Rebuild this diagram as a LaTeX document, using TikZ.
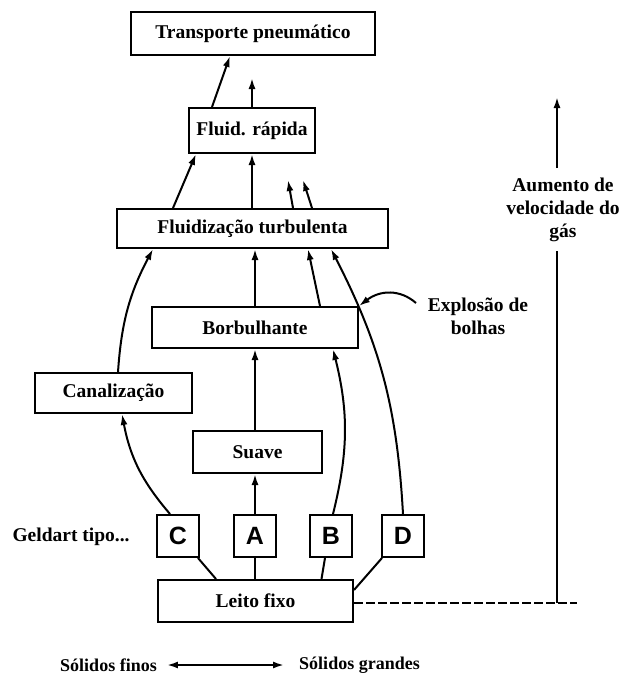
\documentclass[tikz,border=0pt]{standalone}
\usepackage{fontspec}
\setmainfont{Liberation Serif}
\newfontfamily\lsans{Liberation Sans}
\usetikzlibrary{arrows.meta,calc}
\begin{document}
\begin{tikzpicture}[x=1pt,y=-1pt,
  box/.style={draw, line width=2pt, inner sep=0pt, font=\bfseries\fontsize{19.5}{23}\selectfont},
  letter/.style={draw, line width=2pt, minimum size=42pt, inner sep=0pt, font=\lsans\bfseries\fontsize{25}{25}\selectfont},
  conn/.style={line width=2pt},
  arr/.style={conn, -{Latex[length=11pt,width=7pt]}},
  dbl/.style={conn, {Latex[length=11pt,width=7pt]}-{Latex[length=11pt,width=7pt]}},
  lbl/.style={font=\bfseries\fontsize{19.5}{23}\selectfont, align=center, inner sep=2pt},
  small/.style={font=\bfseries\fontsize{18}{21}\selectfont, inner sep=2pt}]
\useasboundingbox (0,0) rectangle (619,680);
% boxes
\node[box, minimum width=244pt, minimum height=43pt] (trans) at (253,33.5) {Transporte pneumático};
\node[box, minimum width=126pt, minimum height=45pt] (rap) at (252,130.5) {Fluid. rápida};
\node[box, minimum width=271pt, minimum height=39pt] (turb) at (252.5,228.5) {Fluidização turbulenta};
\node[box, minimum width=206pt, minimum height=41pt] (borb) at (255,327.5) {Borbulhante};
\node[box, minimum width=157pt, minimum height=40pt] (canal) at (113.5,393) {Canalização};
\node[box, minimum width=129pt, minimum height=42pt] (suave) at (257.5,452) {Suave};
\node[letter] (C) at (178,536) {C};
\node[letter] (A) at (255,536) {A};
\node[letter] (B) at (331,536) {B};
\node[letter] (D) at (403,536) {D};
\node[box, minimum width=195pt, minimum height=42pt] (leito) at (255.5,601) {Leito fixo};
% labels
\node[lbl] (geld) at (71,537) {Geldart tipo...};
\node[lbl] (expl) at (478,316) {Explosão de\\bolhas};
\node[lbl] (aum) at (563,210) {Aumento de\\velocidade do\\gás};
\node[small] (fin) at (108.5,665) {Sólidos finos};
\node[small] (gra) at (359.5,665) {Sólidos grandes};
% free ends
\coordinate (rapup) at (252,78);
\coordinate (t1) at (288,180);
\coordinate (t2) at (303,180);
\coordinate (expstart) at (416,303);
\coordinate (corner) at (557,603);
\coordinate (dashend) at (577,603);
\coordinate (vlow) at (557,251);
\coordinate (vhigh) at (557,168);
\coordinate (vtip) at (557,97);
% leito fixo to letters
\draw[conn] ([xshift=-39.5pt]leito.north) -- ([xshift=20pt]C.south);
\draw[conn] (leito.north -| A.south) -- (A.south);
\draw[conn] ([xshift=66pt]leito.north) -- ([xshift=-6pt]B.south);
\draw[conn] ([yshift=11pt]leito.east) -- ([xshift=1pt]D.south west);
% central stack
\draw[arr] (A.north) -- (suave.south -| A.north);
\draw[arr] (suave.north -| A.north) -- (borb.south -| A.north);
\draw[arr] (borb.north -| A.north) -- (turb.south -| A.north);
\draw[arr] (turb.north -| rap.south) -- (rap.south);
\draw[arr] (rap.north) -- (rapup);
\draw[arr] ([xshift=-40pt]rap.north) -- ([xshift=-23pt]trans.south);
\draw[arr] ([xshift=-79.5pt]turb.north) -- ([xshift=-56pt]rap.south);
\draw[arr] ([xshift=40.5pt]turb.north) -- (t1);
\draw[arr] ([xshift=59.5pt]turb.north) -- (t2);
% curves
\draw[arr] ([xshift=-8pt]C.north) to[bend left=15] ([xshift=8.5pt]canal.south);
\draw[arr] ([xshift=4.5pt]canal.north) to[bend left=12] ([xshift=-99.5pt]turb.south);
\draw[arr] ([xshift=2pt]B.north) to[bend right=14] ([xshift=78pt]borb.south);
\draw[arr] ([xshift=65pt]borb.north) -- ([xshift=55.5pt]turb.south);
\draw[arr] (D.north) to[bend right=12] ([xshift=78.5pt]turb.south);
\draw[arr] (expstart) .. controls (400,289) and (380,290) .. (borb.north east);
% velocity axis
\draw[conn, dash pattern=on 9pt off 3pt] ([yshift=-2pt]leito.east) -- (dashend);
\draw[conn] (corner) -- (vlow);
\draw[arr] (vhigh) -- (vtip);
% bottom
\draw[dbl] ([xshift=8pt]fin.east) -- ([xshift=-13pt]gra.west);
\end{tikzpicture}
\end{document}
